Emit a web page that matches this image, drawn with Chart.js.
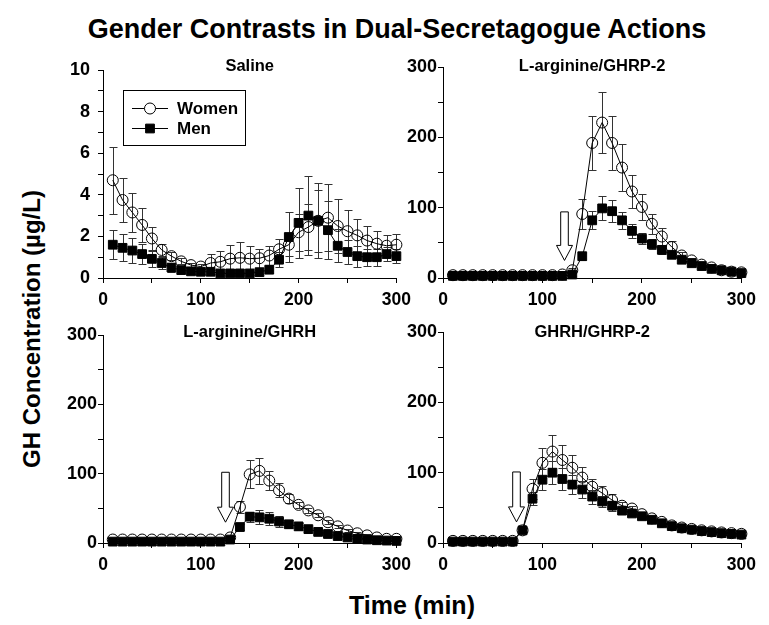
<!DOCTYPE html>
<html>
<head>
<meta charset="utf-8">
<script src="https://cdn.jsdelivr.net/npm/chart.js@4.4.1/dist/chart.umd.min.js"></script>
<style>
  body { margin: 0; background: #fff; }
  #wrap { position: relative; width: 769px; height: 625px; overflow: hidden;
          font-family: "Liberation Sans", Arial, sans-serif; font-weight: bold; color: #000; }
  #wrap canvas { position: absolute; }
  .txt { position: absolute; white-space: nowrap; }
  #title { left: 0; width: 794px; top: 16px; text-align: center; font-size: 27px; line-height: 27px; }
  #xTitle { left: 0; width: 824px; top: 593px; text-align: center; font-size: 25px; line-height: 25px; }
  #yTitle { left: 32px; top: 329px; font-size: 24px; line-height: 24px;
            transform: translate(-50%, -50%) rotate(-90deg); }
</style>
</head>
<body>
<div id="wrap">
  <div id="title" class="txt">Gender Contrasts in Dual-Secretagogue Actions</div>
  <div id="xTitle" class="txt">Time (min)</div>
  <div id="yTitle" class="txt">GH Concentration (µg/L)</div>
  <canvas id="p1" width="365" height="265" style="left:53px;top:50px"></canvas>
  <canvas id="p2" width="370" height="268" style="left:393px;top:47px"></canvas>
  <canvas id="p3" width="365" height="265" style="left:53px;top:315px"></canvas>
  <canvas id="p4" width="370" height="268" style="left:393px;top:312px"></canvas>
</div>
<script>
// sampling times (min)
const times = [10, 20, 30, 40, 50, 60, 70, 80, 90, 100, 110, 120, 130, 140, 150,
               160, 170, 180, 190, 200, 210, 220, 230, 240, 250, 260, 270, 280, 290, 300];
const xTicks = [0, 100, 200, 300];
const salineTicks = [0, 2, 4, 6, 8, 10];
const ghTicks = [0, 100, 200, 300];

// Saline
const salineWomen = [4.7, 3.75, 3.15, 2.55, 1.9, 1.35, 1.05, 0.8, 0.62, 0.55, 0.72, 0.78, 0.93, 0.97, 0.93,
                     0.95, 1.08, 1.38, 1.6, 2.2, 2.45, 2.75, 2.9, 2.5, 2.25, 2.05, 1.8, 1.65, 1.55, 1.6];
const salineWomenErr = [1.6, 1.07, 0.96, 0.82, 0.56, 0.3, 0.2, 0.15, 0.12, 0.12, 0.45, 0.5, 0.67, 0.77, 0.6,
                        0.46, 0.45, 0.48, 0.55, 0.9, 1.1, 1.5, 1.6, 1.3, 1.0, 0.8, 0.7, 0.6, 0.5, 0.5];
const salineMen = [1.6, 1.45, 1.32, 1.15, 0.92, 0.72, 0.5, 0.38, 0.32, 0.3, 0.3, 0.22, 0.22, 0.22, 0.22,
                   0.28, 0.4, 0.88, 1.97, 2.65, 3.0, 2.75, 2.3, 1.55, 1.25, 1.05, 1.0, 1.0, 1.15, 1.05];
const salineMenErr = [0.7, 0.65, 0.62, 0.5, 0.4, 0.3, 0.2, 0.15, 0.12, 0.1, 0.1, 0.08, 0.08, 0.08, 0.08,
                      0.1, 0.15, 0.35, 1.2, 1.7, 1.9, 1.8, 1.4, 0.8, 0.6, 0.5, 0.4, 0.4, 0.35, 0.35];

// L-arginine/GHRP-2
const argGhrp2Women = [4, 4, 4, 4, 4, 4, 4, 4, 4, 4, 4, 5, 11, 91, 192,
                       221, 192, 157, 123, 101, 77, 59, 44, 32, 25, 19, 15, 11, 9, 8];
const argGhrp2WomenErr = [1, 1, 1, 1, 1, 1, 1, 1, 1, 1, 1, 1, 3, 21, 38,
                          43, 38, 33, 24, 19, 14, 12, 8, 5, 4, 3, 3, 2, 2, 2];
const argGhrp2Men = [3, 3, 3, 3, 3, 3, 3, 3, 3, 3, 3, 3, 5, 31, 82,
                     99, 95, 82, 67, 56, 48, 40, 33, 26, 21, 17, 13, 11, 9, 7];
const argGhrp2MenErr = [1, 1, 1, 1, 1, 1, 1, 1, 1, 1, 1, 1, 2, 5, 13,
                        17, 16, 12, 10, 8, 7, 6, 4, 3, 3, 2, 2, 2, 2, 2];

// L-arginine/GHRH
const argGhrhWomen = [5, 5, 5, 5, 5, 5, 5, 5, 5, 5, 5, 5, 8, 52, 99,
                      104, 90, 76, 64, 55, 47, 40, 30, 24, 18, 14, 11, 8, 6, 6];
const argGhrhWomenErr = [1, 1, 1, 1, 1, 1, 1, 1, 1, 1, 1, 1, 2, 9, 20,
                         19, 14, 10, 6, 4, 4, 3, 3, 2, 2, 2, 2, 2, 1, 1];
const argGhrhMen = [2, 2, 2, 2, 2, 2, 2, 2, 2, 2, 2, 2, 5, 23, 38,
                    37, 35, 31, 27, 24, 20, 16, 13, 10, 8, 6, 5, 4, 3.5, 3];
const argGhrhMenErr = [1, 1, 1, 1, 1, 1, 1, 1, 1, 1, 1, 1, 2, 4, 7,
                       10, 9, 8, 6, 5, 4, 3, 3, 2, 2, 2, 1, 1, 1, 1];

// GHRH/GHRP-2
const ghrhGhrp2Women = [3, 3, 3, 3, 3, 3, 3, 18, 77, 114, 130, 118, 107, 93, 80,
                        71, 61, 53, 49, 41, 35, 30, 25, 22, 20, 18, 16.5, 15, 14, 13];
const ghrhGhrp2WomenErr = [1, 1, 1, 1, 1, 1, 1, 3, 14, 21, 23, 21, 18, 15, 11,
                           10, 8, 5, 4, 3, 3, 2, 2, 2, 2, 2, 2, 2, 2, 2];
const ghrhGhrp2Men = [2, 2, 2, 2, 2, 2, 2, 18, 63, 90, 100, 91, 83, 76, 66,
                      59, 53, 46, 42, 38, 33, 28, 24, 21, 19, 17, 15.5, 14, 13, 12];
const ghrhGhrp2MenErr = [1, 1, 1, 1, 1, 1, 1, 3, 9, 15, 16, 15, 13, 12, 10,
                         8, 7, 5, 4, 3, 3, 3, 2, 2, 2, 2, 2, 2, 2, 2];

const FONT = '"Liberation Sans", Arial, sans-serif';

// whiskers under the markers
const errorBars = {
    id: 'errorBars',
    beforeDatasetsDraw(chart) {
        const ctx = chart.ctx;
        const ys = chart.scales.y;
        ctx.save();
        ctx.strokeStyle = '#333';
        ctx.lineWidth = 1;
        chart.data.datasets.forEach((ds, di) => {
            const meta = chart.getDatasetMeta(di);
            meta.data.forEach((pt, i) => {
                const e = ds.errors[i];
                if (!e) return;
                const v = ds.data[i].y;
                const x = Math.round(pt.x) + 0.5;
                const top = Math.round(ys.getPixelForValue(v + e)) + 0.5;
                const bot = Math.round(ys.getPixelForValue(Math.max(v - e, 0))) + 0.5;
                ctx.beginPath();
                ctx.moveTo(x, top); ctx.lineTo(x, bot);
                ctx.moveTo(x - 4, top); ctx.lineTo(x + 4, top);
                ctx.moveTo(x - 4, bot); ctx.lineTo(x + 4, bot);
                ctx.stroke();
            });
        });
        ctx.restore();
    }
};

// panel title, injection arrow and legend
function decoPlugin(p) {
    return {
        id: 'deco',
        afterDraw(chart) {
            const ctx = chart.ctx;
            const area = chart.chartArea;
            const xs = chart.scales.x, ys = chart.scales.y;
            ctx.save();
            ctx.fillStyle = '#000';
            ctx.font = 'bold 16.5px ' + FONT;
            ctx.textAlign = 'center';
            ctx.textBaseline = 'alphabetic';
            ctx.fillText(p.title, (area.left + area.right) / 2, p.titleY - p.top);

            if (p.arrow) {
                const x = Math.round(xs.getPixelForValue(p.arrow.t)) + 0.5;
                const y0 = ys.getPixelForValue(p.arrow.from);
                const y1 = ys.getPixelForValue(p.arrow.to);
                const head = 15, sw = 3.8, hw = 8;
                ctx.beginPath();
                ctx.moveTo(x - sw, y0);
                ctx.lineTo(x + sw, y0);
                ctx.lineTo(x + sw, y1 - head);
                ctx.lineTo(x + hw, y1 - head);
                ctx.lineTo(x, y1);
                ctx.lineTo(x - hw, y1 - head);
                ctx.lineTo(x - sw, y1 - head);
                ctx.closePath();
                ctx.fillStyle = '#fff';
                ctx.fill();
                ctx.strokeStyle = '#000';
                ctx.lineWidth = 1;
                ctx.stroke();
            }

            if (p.legend) {
                const bx = area.left + 20.5, by = area.top + 20.5;
                ctx.strokeStyle = '#000';
                ctx.lineWidth = 1;
                ctx.strokeRect(bx, by, 122, 55);
                const rows = [{ label: 'Women', y: area.top + 38, ds: 0, fill: '#fff' },
                              { label: 'Men', y: area.top + 58, ds: 1, fill: '#000' }];
                rows.forEach(r => {
                    const ds = chart.data.datasets[r.ds];
                    ctx.strokeStyle = '#000';
                    ctx.beginPath();
                    ctx.moveTo(area.left + 29, r.y + 0.5);
                    ctx.lineTo(area.left + 65, r.y + 0.5);
                    ctx.stroke();
                    ctx.fillStyle = r.fill;
                    Chart.helpers.drawPoint(ctx, {
                        pointStyle: ds.pointStyle, radius: ds.pointRadius, borderWidth: 1
                    }, area.left + 47, r.y + 0.5);
                    ctx.fillStyle = '#000';
                    ctx.font = 'bold 17px ' + FONT;
                    ctx.textAlign = 'left';
                    ctx.textBaseline = 'middle';
                    ctx.fillText(r.label, area.left + 74, r.y + 1);
                });
            }
            ctx.restore();
        }
    };
}

function toPoints(vals) {
    return vals.map((v, i) => ({ x: times[i], y: v }));
}

function buildPanel(p) {
    const xFont = { family: FONT, size: 17.5, weight: 'bold' };
    const yFont = { family: FONT, size: 18, weight: 'bold' };
    return new Chart(document.getElementById(p.id), {
        type: 'line',
        data: {
            datasets: [
                {
                    label: 'Women', data: toPoints(p.women), errors: p.womenErr,
                    borderColor: '#000', borderWidth: 1, tension: 0, clip: false,
                    pointStyle: 'circle', pointRadius: 5.5, pointBorderWidth: 1,
                    pointBorderColor: '#000', pointBackgroundColor: 'rgba(255,255,255,0)',
                    order: 2
                },
                {
                    label: 'Men', data: toPoints(p.men), errors: p.menErr,
                    borderColor: '#000', borderWidth: 1, tension: 0, clip: false,
                    pointStyle: 'rect', pointRadius: 6.2, pointBorderWidth: 1,
                    pointBorderColor: '#000', pointBackgroundColor: '#000',
                    order: 1
                }
            ]
        },
        options: {
            responsive: false,
            animation: false,
            events: [],
            layout: { padding: { top: 20, right: p.padRight, left: 0, bottom: 0 } },
            plugins: { legend: { display: false }, tooltip: { enabled: false } },
            scales: {
                x: {
                    type: 'linear', min: 0, max: 300,
                    afterFit: s => { s.height = 37; },
                    ticks: {
                        stepSize: 50, autoSkip: false, maxRotation: 0, padding: 7,
                        color: '#000', font: xFont,
                        callback: v => xTicks.includes(v) ? String(v) : ''
                    },
                    grid: { drawOnChartArea: false, tickLength: 5, color: '#000', lineWidth: 1 },
                    border: { color: '#000', width: 1 }
                },
                y: {
                    min: 0, max: p.yMax,
                    afterFit: s => { s.width = 50; },
                    ticks: {
                        stepSize: p.yStep, autoSkip: false, padding: p.yPad,
                        color: '#000', font: yFont,
                        callback: v => p.yTicks.includes(v) ? String(v) : ''
                    },
                    grid: { drawOnChartArea: false, tickLength: 5, color: '#000', lineWidth: 1 },
                    border: { color: '#000', width: 1 }
                }
            }
        },
        plugins: [errorBars, decoPlugin(p)]
    });
}

buildPanel({
    id: 'p1', top: 50, padRight: 20, title: 'Saline', titleY: 71,
    yMax: 10, yStep: 1, yTicks: salineTicks, yPad: 8, legend: true,
    women: salineWomen, womenErr: salineWomenErr, men: salineMen, menErr: salineMenErr
});
buildPanel({
    id: 'p2', top: 47, padRight: 20, title: 'L-arginine/GHRP-2', titleY: 71,
    yMax: 300, yStep: 50, yTicks: ghTicks, yPad: 1,
    arrow: { t: 122, from: 94, to: 25 },
    women: argGhrp2Women, womenErr: argGhrp2WomenErr, men: argGhrp2Men, menErr: argGhrp2MenErr
});
buildPanel({
    id: 'p3', top: 315, padRight: 21, title: 'L-arginine/GHRH', titleY: 337,
    yMax: 300, yStep: 50, yTicks: ghTicks, yPad: 1,
    arrow: { t: 125, from: 102, to: 30 },
    women: argGhrhWomen, womenErr: argGhrhWomenErr, men: argGhrhMen, menErr: argGhrhMenErr
});
buildPanel({
    id: 'p4', top: 312, padRight: 20, title: 'GHRH/GHRP-2', titleY: 337,
    yMax: 300, yStep: 50, yTicks: ghTicks, yPad: 1,
    arrow: { t: 73, from: 101, to: 30 },
    women: ghrhGhrp2Women, womenErr: ghrhGhrp2WomenErr, men: ghrhGhrp2Men, menErr: ghrhGhrp2MenErr
});
</script>
</body>
</html>
